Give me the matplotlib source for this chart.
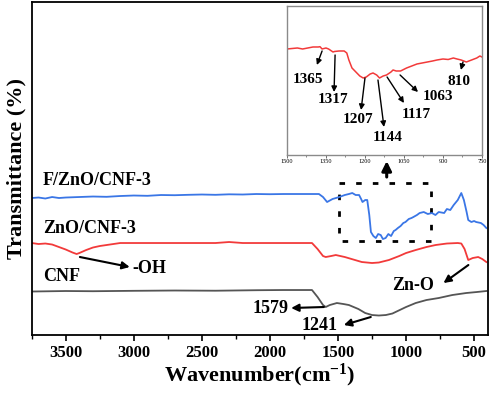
import matplotlib
matplotlib.use("Agg")
import matplotlib.pyplot as plt
from matplotlib.ticker import MultipleLocator
from matplotlib.patches import Rectangle

plt.rcParams['font.family'] = ['Liberation Serif', 'DejaVu Serif']
plt.rcParams['mathtext.fontset'] = 'custom'
plt.rcParams['mathtext.rm'] = 'Liberation Serif:bold'
plt.rcParams['mathtext.bf'] = 'Liberation Serif:bold'
plt.rcParams['mathtext.default'] = 'bf'

# ---------------- data (arbitrary transmittance units) ----------------
fzno_wn = [3750, 3700, 3650, 3600, 3550, 3500, 3400, 3300, 3200, 3100, 3000, 2900,
           2800, 2700, 2600, 2500, 2400, 2300, 2200, 2100, 2000, 1900, 1800, 1700,
           1640, 1610, 1580, 1540, 1490, 1450, 1420, 1395, 1370, 1345, 1330, 1320,
           1300, 1285, 1270, 1258, 1240, 1222, 1205, 1186, 1170, 1150, 1130, 1110,
           1090, 1077, 1060, 1040, 1020, 1004, 980, 960, 946, 920, 900, 870, 840,
           810, 784, 760, 720, 700, 675, 650, 620, 594, 575, 555, 543, 520, 500,
           485, 450, 430, 410]
fzno_t = [137, 137.5, 136.5, 138, 137, 137.5, 138, 138.5, 138.2, 139, 139.5, 139.2,
          140, 139.8, 140.2, 140.5, 140.2, 140.7, 140.5, 141, 140.8, 141, 141, 141,
          141, 138, 133, 136, 138, 140, 141, 142, 140, 140, 136, 133,
          135, 135, 120, 103, 99, 97, 101, 100, 96, 97, 101, 99,
          104, 105, 107, 109, 112, 113, 116, 117, 118, 120, 122, 123, 121,
          122, 120, 123, 122, 126, 125, 130, 135, 142, 135, 123, 115, 113, 114,
          113, 112, 110, 107]

zno_wn = [3750, 3700, 3650, 3600, 3550, 3500, 3450, 3420, 3400, 3350, 3300, 3250,
          3200, 3150, 3100, 3000, 2800, 2600, 2400, 2300, 2200, 2000, 1800, 1691,
          1650, 1610, 1590, 1550, 1516, 1450, 1400, 1325, 1250, 1200, 1126, 1050,
          1000, 929, 850, 783, 700, 620, 594, 570, 543, 510, 470, 440, 410]
zno_t = [92, 91, 91.5, 90.5, 88, 85.5, 82.5, 81, 82, 85, 87.5, 89,
         90, 91, 92, 92, 92, 92, 92, 93, 92, 92, 92, 92,
         86, 79, 78, 79, 80, 78, 76, 73, 72, 72.5, 75, 79,
         82, 85, 88, 90, 91.5, 92, 91.5, 86, 75, 77, 78, 76, 73]

cnf_wn = [3750, 3500, 3300, 3000, 2700, 2400, 2100, 1900, 1691, 1650, 1610, 1590,
          1560, 1508, 1460, 1420, 1350, 1300, 1250, 1200, 1148, 1100, 1077, 1000,
          929, 850, 760, 660, 558, 480, 410]
cnf_t = [43.5, 44, 43.8, 44.2, 44.5, 44.3, 44.8, 45, 45, 38, 30, 28,
         30, 32, 31, 30, 26, 22, 20, 19.5, 20, 21.5, 23, 28,
         32, 35, 37, 40, 42, 43, 44]

inset_wn = [1500, 1480, 1460, 1440, 1420, 1400, 1380, 1373, 1365, 1350, 1340, 1323,
            1317, 1300, 1280, 1270, 1262, 1250, 1235, 1220, 1207, 1195, 1180, 1169,
            1155, 1144, 1130, 1117, 1100, 1092, 1080, 1063, 1040, 1020, 1000, 980,
            960, 940, 923, 900, 880, 860, 846, 830, 810, 790, 770, 758, 750]
inset_t = [106, 106.5, 107, 106, 107, 108, 108, 108.3, 106, 107, 106, 103,
           103.5, 104, 104, 102, 95, 87, 83, 79, 77, 78, 81, 82,
           80, 77, 79, 80, 83, 85, 84, 84, 87, 89, 91, 92,
           93, 94, 95, 96, 95.5, 97, 96, 95, 93, 95, 97, 99, 98]

series_labels = ["F/ZnO/CNF-3", "ZnO/CNF-3", "CNF"]
main_ticks = [3500, 3000, 2500, 2000, 1500, 1000, 500]
inset_ticks = [1500, 1350, 1200, 1050, 900, 750]
inset_peaks = ["1365", "1317", "1207", "1144", "1117", "1063", "810"]

# ---------------- figure ----------------
fig = plt.figure(figsize=(4.91, 3.94), dpi=100)
ax = fig.add_axes([0.0646, 0.1497, 0.9287, 0.8452])

blue = '#3a76e6'
red = '#f23a3a'
gray = '#555555'
ax.plot(fzno_wn, fzno_t, color=blue, lw=1.3)
ax.plot(zno_wn, zno_t, color=red, lw=1.3)
ax.plot(cnf_wn, cnf_t, color=gray, lw=1.3)

ax.set_xlim(3750, 400)
ax.set_ylim(0, 333)
ax.set_yticks([])
ax.xaxis.set_major_locator(MultipleLocator(500))
ax.xaxis.set_minor_locator(MultipleLocator(250))
ax.set_xticks(main_ticks)
ax.tick_params(axis='x', which='major', direction='out', length=4, width=1.2,
               labelsize=12, pad=3)
ax.tick_params(axis='x', which='minor', direction='out', length=3, width=1.0)
for lab in ax.get_xticklabels():
    lab.set_fontweight('bold')
for s in ax.spines.values():
    s.set_linewidth(1.3)

ax.set_xlabel('Wavenumber(cm$^{-1}$)', fontsize=16, fontweight='bold', labelpad=1)
ax.set_ylabel('Transmittance (%)', fontsize=16, fontweight='bold', labelpad=4)

tkw = dict(fontsize=13, fontweight='bold', ha='left', va='center')
ax.text(3667, 155, series_labels[0], **tkw)
ax.text(3667, 107, series_labels[1], **tkw)
ax.text(3667, 59, series_labels[2], **tkw)
ax.text(3008, 67, '-OH', **tkw)
ax.text(1105, 50, 'Zn-O', **tkw)
ax.text(2130, 27, '1579', **tkw)
ax.text(1771, 10, '1241', **tkw)

akw = dict(arrowstyle='-|>', color='k', lw=1.5, mutation_scale=11,
           shrinkA=0, shrinkB=0)
ax.annotate('', xy=(3030, 68), xytext=(3396, 78), arrowprops=akw)
ax.annotate('', xy=(725, 52), xytext=(542, 70), arrowprops=akw)
ax.annotate('', xy=(1844, 27), xytext=(1603, 28), arrowprops=akw)
ax.annotate('', xy=(1457, 10), xytext=(1259, 18), arrowprops=akw)

# dotted rectangle marking the zoomed region
ax.add_patch(Rectangle((813, 94), 1493 - 813, 152 - 94, fill=False,
                       edgecolor='k', lw=2, linestyle=(0, (2, 4))))
# upward arrow toward the inset
ax.annotate('', xy=(1142, 174), xytext=(1142, 158),
            arrowprops=dict(arrowstyle='-|>', color='k', lw=2.2,
                            mutation_scale=14, shrinkA=0, shrinkB=0))

# ---------------- inset ----------------
ins = fig.add_axes([0.5845, 0.6066, 0.3971, 0.3782])
ins.plot(inset_wn, inset_t, color=red, lw=1.1)
ins.set_xlim(1500, 750)
ins.set_ylim(0, 149)
ins.set_yticks([])
ins.set_xticks(inset_ticks)
ins.xaxis.set_minor_locator(MultipleLocator(75))
ins.tick_params(axis='x', which='major', direction='out', length=2, width=0.6,
                labelsize=4.5, pad=1, color='#555555')
ins.tick_params(axis='x', which='minor', direction='out', length=1.2, width=0.5,
                color='#555555')
for s in ins.spines.values():
    s.set_color('#8a8a8a')
    s.set_linewidth(1.0)

ikw = dict(fontsize=11, fontweight='bold', ha='left', va='center')
ins.text(1477, 75, inset_peaks[0], **ikw)
ins.text(1381, 55, inset_peaks[1], **ikw)
ins.text(1285, 35, inset_peaks[2], **ikw)
ins.text(1169, 17, inset_peaks[3], **ikw)
ins.text(1058, 40, inset_peaks[4], **ikw)
ins.text(977, 58, inset_peaks[5], **ikw)
ins.text(881, 73, inset_peaks[6], **ikw)

iakw = dict(arrowstyle='-|>', color='k', lw=1.0, mutation_scale=8,
            shrinkA=0, shrinkB=0)
ins.annotate('', xy=(1385, 90), xytext=(1365, 104), arrowprops=iakw)
ins.annotate('', xy=(1319, 63), xytext=(1315, 100), arrowprops=iakw)
ins.annotate('', xy=(1215, 45), xytext=(1200, 77), arrowprops=iakw)
ins.annotate('', xy=(1127, 28), xytext=(1150, 75), arrowprops=iakw)
ins.annotate('', xy=(1050, 52), xytext=(1115, 78), arrowprops=iakw)
ins.annotate('', xy=(996, 63), xytext=(1065, 80), arrowprops=iakw)
ins.annotate('', xy=(831, 85), xytext=(823, 93), arrowprops=iakw)

fig.savefig('out.png', dpi=100)
